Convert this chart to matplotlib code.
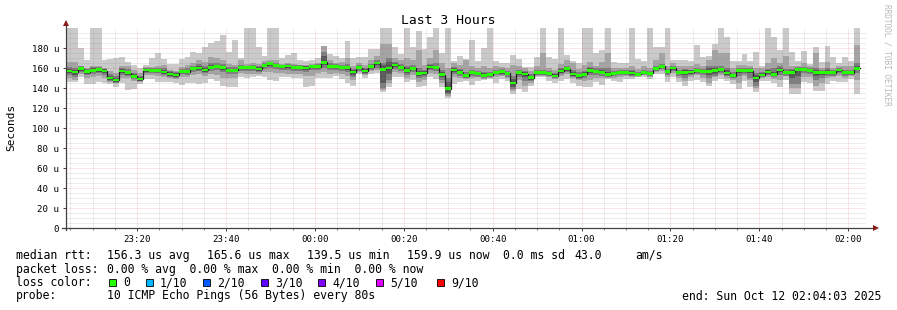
import numpy as np
import matplotlib
matplotlib.use("Agg")
import matplotlib.pyplot as plt
from matplotlib.patches import Rectangle

# ---------------- data (values in microseconds, one per 80 s step) ----------------
med = [157,156,159.3,156.3,157.7,158.5,157,150,148,157,
       155.5,151.7,149,158,157.7,157.5,156,154,153,156.5,
       156.5,159.7,160,158,160.7,161.7,160.3,157.7,157.7,160.3,
       160.5,160.3,159,162.7,164.3,162.7,161.3,162,160.3,160.3,
       160,161.3,161.3,165.6,161.7,161.3,160.7,160.3,156,160.3,
       157,161.3,165,158.7,160,163,160.7,157.7,159.7,154.7,
       155,161,160.3,153.3,139.5,158,155.7,152.3,155.3,154.7,
       152.7,153.3,155.7,156.3,154.7,145,155.7,154,150.3,155.3,
       155.3,154.3,152,157,159.3,154,152.3,153.7,157.7,156.7,
       155.7,153.3,154.7,155.7,155.7,155,153.7,155.7,154.7,159.7,
       161.7,156.3,160,155.7,155.7,156,157.3,156.7,156.7,157.3,
       158.3,155,152.3,157.3,157.3,157.3,150,153,156,153.7,
       158,155.7,155.7,158.7,158.7,157.3,155.3,155.3,155.3,155.3,
       158,155.3,155.3,159.9]

p10 = [205,205,180,168,205,205,168,169,170,171,
       166,163,160,163,170,175,169,164,164,169,
       171,176,175,181,185,187,193,176,188,170,
       205,205,181,172,205,205,170,173,175,168,
       167,168,170,182,174,172,170,187,170,171,
       171,179,179,205,205,181,174,205,181,197,
       179,191,205,175,205,167,172,169,188,167,
       180,205,167,165,165,173,169,161,161,171,
       205,171,169,205,173,167,165,205,205,175,
       178,205,166,165,165,205,169,167,205,181,
       181,205,168,168,168,167,183,171,172,184,
       205,191,167,167,174,167,176,162,205,191,
       178,205,176,167,177,164,181,166,182,171,
       165,171,167,205]

p1 = [146,146,151,144,144,146,145,144,141,145,
      138,139,144,149,149,146,146,146,145,143,
      145,145,144,145,149,147,142,141,141,151,
      150,151,152,151,148,147,151,151,150,150,
      141,142,150,150,150,152,149,145,142,154,
      150,154,155,136,141,151,151,146,148,141,
      142,151,149,141,130,144,146,147,143,147,
      148,149,145,149,147,134,139,136,142,151,
      151,147,145,147,149,145,142,141,141,146,
      143,149,147,146,149,149,151,151,149,154,
      154,146,151,146,142,147,148,146,142,147,
      149,147,144,139,147,141,136,147,147,145,
      141,148,134,134,146,145,137,137,144,147,
      146,146,149,134]

p9 = [166,166,162,160,162,162,160,157,155,162,
      162,158,155,161,161,162,163,158,157,161,
      163,165,168,166,171,170,168,164,163,168,
      164,165,164,167,168,168,164,165,164,163,
      163,164,165,182,168,165,166,170,162,165,
      163,168,172,184,184,170,168,170,168,178,
      163,170,178,165,160,165,163,168,162,160,
      162,160,162,161,160,163,162,160,157,162,
      175,160,158,164,168,165,159,163,166,162,
      166,175,160,160,160,162,159,162,160,168,
      175,162,165,162,162,162,164,162,168,178,
      175,175,160,163,163,162,160,160,165,170,
      165,172,162,162,165,162,175,160,166,160,
      162,162,162,183]

p2 = [150,148,154,150,151,152,150,146,145,150,
      150,147,147,153,153,152,151,150,149,151,
      151,153,154,152,154,153,150,150,150,155,
      154,154,154,156,156,155,155,154,154,154,
      152,152,155,156,154,155,154,152,148,156,
      153,157,158,140,145,156,155,150,153,146,
      148,155,154,145,134,151,150,149,150,151,
      150,151,151,152,150,139,148,142,145,153,
      152,151,149,152,154,150,148,147,148,150,
      150,151,150,151,152,151,152,153,152,156,
      157,151,155,150,147,151,153,150,145,151,
      153,150,148,145,152,148,142,150,151,149,
      148,152,140,140,151,151,142,145,150,151,
      152,150,152,148]

p8 = [161,160,162,159,161,161,159,154,152,160,
      159,155,152,160,160,160,160,157,156,159,
      160,162,164,162,165,165,164,161,161,163,
      162,163,162,165,166,165,163,164,163,163,
      162,163,164,176,165,164,163,164,159,163,
      160,164,168,165,170,166,164,162,163,160,
      158,164,165,158,150,161,159,156,158,157,
      156,156,158,159,157,152,158,157,154,158,
      158,157,155,160,162,158,156,157,161,160,
      160,160,157,158,158,158,156,158,157,162,
      164,159,162,158,159,158,160,159,162,162,
      162,160,156,160,160,160,155,156,159,160,
      162,159,159,161,161,160,160,158,160,158,
      160,158,158,165]

p3 = [153,151,156,153,154,155,153,147,145,153,
      152,149,146,155,155,155,153,151,150,154,
      153,156,157,155,157,158,156,154,154,157,
      157,157,156,159,160,159,158,158,157,157,
      156,158,158,160,158,158,157,156,151,157,
      154,158,160,138,148,159,157,153,156,150,
      151,158,157,148,132,154,152,150,152,151,
      149,150,153,153,151,137,151,147,147,152,
      153,152,150,154,156,151,149,150,153,153,
      152,150,152,153,153,152,151,153,151,157,
      159,153,157,152,150,153,154,153,150,152,
      155,152,150,152,154,150,140,151,153,151,
      153,152,144,144,155,154,148,150,152,152,
      155,152,153,155]

p7 = [159,158,161,158,160,160,159,152,150,159,
      157,154,151,159,159,159,158,156,155,158,
      158,161,162,160,163,163,162,159,159,162,
      162,162,161,164,166,164,163,163,162,162,
      162,163,163,172,163,163,162,162,158,162,
      159,163,166,163,166,165,162,160,161,157,
      157,163,162,156,146,160,158,154,157,156,
      155,155,157,158,156,149,157,156,152,157,
      157,156,154,159,161,156,154,156,160,158,
      158,156,156,157,157,157,155,157,156,161,
      163,158,161,157,158,158,159,158,160,160,
      160,158,154,159,159,159,153,155,158,156,
      160,157,158,160,160,159,158,157,158,157,
      159,157,157,162]

p4 = [155,153,157,154,156,156,155,148,146,155,
      153,150,147,156,156,156,154,152,151,155,
      155,158,158,156,159,160,158,156,156,159,
      159,159,157,161,162,161,160,160,159,159,
      158,160,160,163,160,160,159,158,153,159,
      155,160,163,145,154,161,159,155,158,152,
      153,159,159,151,135,156,154,151,154,153,
      151,152,154,154,153,141,153,151,148,154,
      154,153,151,155,157,152,150,152,155,155,
      154,152,153,154,154,153,152,154,153,158,
      160,155,158,154,153,154,156,155,153,154,
      157,153,151,155,156,155,146,152,154,152,
      156,154,150,152,157,156,152,153,154,154,
      156,154,154,158]

x_labels = ["23:20", "23:40", "00:00", "00:20", "00:40", "01:00", "01:20", "01:40", "02:00"]
y_labels = ["0", "20 u", "40 u", "60 u", "80 u", "100 u", "120 u", "140 u", "160 u", "180 u"]
loss_labels = ["0", "1/10", "2/10", "3/10", "4/10", "5/10", "9/10"]
loss_colors = ["#26ff00", "#00b8ff", "#0059ff", "#5e00ff", "#7e00ff", "#dd00ff", "#ff0000"]

# ---------------- figure ----------------
MONO = "DejaVu Sans Mono"
plt.rcParams["font.family"] = MONO
W, H = 897, 310
fig = plt.figure(figsize=(W / 100, H / 100), dpi=100)
fig.patch.set_facecolor("white")
L, R, T, B = 66, 866, 28, 228
ax = fig.add_axes([L / W, 1 - B / H, (R - L) / W, (B - T) / H])
ax.set_facecolor("white")
ax.set_xlim(0, 180)
ax.set_ylim(0, 200)
for s in ax.spines.values():
    s.set_visible(False)

STEP = 80 / 60.0  # minutes
n = len(med)
xe = np.arange(n + 1) * STEP

def ext(a):
    a = np.asarray(a, float)
    return np.append(a, a[-1])

rows = np.sort(np.vstack([p1, p2, p3, p4, p7, p8, p9, p10]).astype(float), axis=0)
shades = ["#cacaca", "#a4a4a4", "#7e7e7e", "#585858"]
for i, c in enumerate(shades):
    ax.fill_between(xe, ext(rows[i]), ext(rows[7 - i]), step="post", color=c,
                    linewidth=0, antialiased=False, zorder=1 + i * 0.1)

# grid (drawn over the smoke)
gcol = (0.55, 0.55, 0.55, 0.32)
mcol = (0.9, 0.2, 0.2, 0.24)
dot = (0, (1, 1))
major_x = [16 + 20 * k for k in range(9)]
for v in np.arange(1, 180, 5):
    if v in major_x:
        continue
    ax.axvline(v, color=gcol, lw=0.72, ls=dot, zorder=2)
for v in range(5, 200, 5):
    if v % 20 == 0:
        continue
    ax.axhline(v, color=gcol, lw=0.72, ls=dot, zorder=2)
for v in major_x:
    ax.axvline(v, color=mcol, lw=0.72, ls=dot, zorder=2.1)
for v in range(20, 200, 20):
    ax.axhline(v, color=mcol, lw=0.72, ls=dot, zorder=2.1)

# median line + loss colored band
ax.step(xe, ext(med), where="post", color="#202020", lw=0.9, zorder=3)
ax.fill_between(xe, ext(med) - 1.4, ext(med) + 1.4, step="post", color="#26ff00",
                linewidth=0, antialiased=False, zorder=4)

# axes lines + arrows
ax.plot([0, 0], [-1.5, 205], color="#404040", lw=0.9, clip_on=False, zorder=5)
ax.plot([-0.8, 182], [0, 0], color="#404040", lw=0.9, clip_on=False, zorder=5)
ax.plot([0], [205.5], marker="^", ms=4.2, color="#8b1a1a", mew=0, clip_on=False, zorder=6)
ax.plot([182.3], [0], marker=">", ms=4.2, color="#8b1a1a", mew=0, clip_on=False, zorder=6)

# ticks
ax.set_xticks(major_x)
ax.set_xticklabels(x_labels)
ax.set_xticks([v for v in np.arange(1, 180, 5) if v not in major_x], minor=True)
ax.set_yticks(range(0, 200, 20))
ax.set_yticklabels(y_labels)
ax.tick_params(axis="both", which="major", direction="out", length=2.2, width=0.7,
               color="#404040", labelsize=6.6, labelcolor="black")
ax.tick_params(axis="x", which="minor", direction="out", length=1.4, width=0.7, color="#808080")
ax.tick_params(axis="x", which="major", pad=2.6)
ax.tick_params(axis="y", which="major", pad=2.6)

# titles and labels
fig.text(448 / W, 1 - 24 / H, "Last 3 Hours", ha="center", va="baseline", fontsize=9.4)
fig.text(11 / W, 1 - 127 / H, "Seconds", rotation=90, ha="center", va="center", fontsize=8)
fig.text(887 / W, 1 - 4 / H, "RRDTOOL / TOBI OETIKER", rotation=270, ha="center", va="top",
         fontsize=5.6, color="#b8b8b8")

FS = 8.3
def t(xp, yp, s, **kw):
    fig.text(xp / W, 1 - yp / H, s, ha="left", va="baseline", fontsize=FS, **kw)

t(16, 259, "median rtt:")
t(107, 259, "156.3 us avg")
t(207, 259, "165.6 us max")
t(307, 259, "139.5 us min")
t(407, 259, "159.9 us now")
t(503, 259, "0.0 ms sd")
t(574, 259, "43.0")
t(635, 259, "am/s")
t(16, 272.7, "packet loss:")
t(107, 272.7, "0.00 % avg  0.00 % max  0.00 % min  0.00 % now")
t(16, 286, "loss color:")
box_x = [109, 146, 203, 261, 318, 376, 437]
for bx, lab, col in zip(box_x, loss_labels, loss_colors):
    fig.add_artist(Rectangle((bx / W, 1 - 285.5 / H), 7 / W, 7 / H, transform=fig.transFigure,
                             facecolor=col, edgecolor="black", linewidth=0.6))
    t(bx + 14, 286, lab)
t(16, 299.5, "probe:")
t(107, 299.5, "10 ICMP Echo Pings (56 Bytes) every 80s")
fig.text(881 / W, 1 - 299.5 / H, "end: Sun Oct 12 02:04:03 2025", ha="right", va="baseline",
         fontsize=FS)

fig.savefig("out.png", dpi=100, facecolor="white")
